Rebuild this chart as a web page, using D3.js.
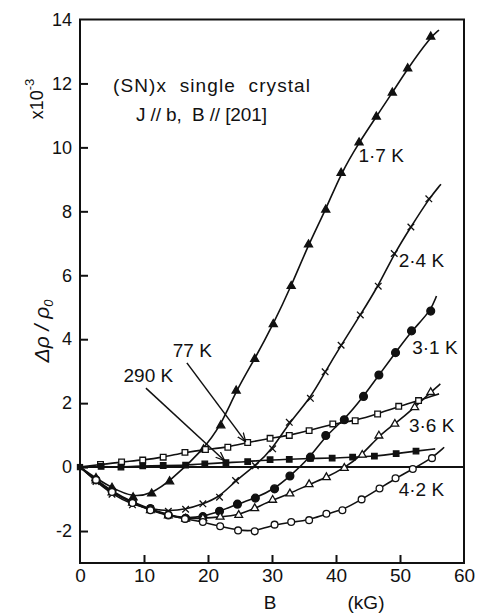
<!DOCTYPE html>
<html><head><meta charset="utf-8">
<script src="https://cdn.jsdelivr.net/npm/d3@7"></script>
<style>body{margin:0;background:#fff}svg{display:block}text{font-family:"Liberation Sans",Arial,sans-serif;fill:#111}</style>
</head><body><svg id="c" width="483" height="613"></svg>
<script>
// Field B (kG) and Δρ/ρ0 (x10^-3) per temperature
const T17 = [[0,0],[2.5,-0.35],[5,-0.65],[8.3,-0.95],[11.2,-0.83],[14,-0.45],[19.3,0.55],[22,1.3],[24.4,2.39],[27.3,3.38],[30.2,4.47],[33,5.66],[35.7,6.96],[38.4,8.05],[40.8,9.2],[43.6,10.15],[46.3,10.96],[48.8,11.71],[51.2,12.47],[54.8,13.46]];
const T24 = [[0,0],[2.5,-0.45],[5,-0.85],[8.2,-1.18],[11,-1.3],[13.8,-1.38],[16.5,-1.32],[19.2,-1.15],[21.8,-0.94],[24.3,-0.42],[27.4,0.04],[30.1,0.57],[32.7,1.4],[36,2.15],[38.3,2.98],[40.8,3.81],[43.8,4.76],[46.6,5.66],[49.1,6.68],[51.7,7.51],[54.5,8.39]];
const T31 = [[0,0],[2.5,-0.4],[5,-0.75],[8.2,-1.1],[11,-1.3],[13.8,-1.5],[16.5,-1.6],[19.2,-1.55],[21.8,-1.38],[24.6,-1.16],[27.4,-0.97],[30.4,-0.68],[32.8,-0.28],[36,0.31],[38.4,0.99],[41.3,1.48],[44.3,2.21],[46.7,2.88],[49.3,3.58],[51.8,4.26],[54.8,4.88]];
const T36 = [[0,0],[2.5,-0.42],[5,-0.8],[8.2,-1.12],[11,-1.35],[13.8,-1.52],[16.5,-1.62],[19.2,-1.6],[21.9,-1.56],[24.8,-1.5],[27.3,-1.29],[30.1,-1.03],[32.8,-0.83],[35.8,-0.54],[38.5,-0.32],[41.3,-0.03],[44.1,0.38],[46.7,0.98],[49.2,1.35],[52.3,1.87],[54.8,2.34]];
const T42 = [[0,0],[2.5,-0.4],[5,-0.78],[8.2,-1.12],[11,-1.35],[13.8,-1.5],[16.4,-1.62],[19.2,-1.72],[21.9,-1.85],[24.7,-1.98],[27.3,-2.01],[30.4,-1.8],[33,-1.72],[35.8,-1.66],[38.5,-1.46],[41,-1.35],[44,-1.01],[46.8,-0.67],[49.3,-0.35],[52,-0.06],[55,0.28]];
const T77 = [[0,0],[3.2,0.08],[6.5,0.16],[9.8,0.22],[13,0.31],[16.4,0.46],[19.6,0.55],[23.1,0.62],[26.2,0.77],[29.7,0.9],[32.7,0.99],[35.8,1.14],[39.5,1.35],[43,1.45],[46.5,1.66],[49.8,1.9],[52.9,2.08]];
const T290 = [[0,0],[3.3,0.02],[6.4,0.0],[9.8,0.04],[13,0.05],[16.5,0.06],[19.5,0.1],[22.8,0.14],[26.2,0.17],[29.7,0.23],[32.7,0.24],[36,0.27],[39.4,0.28],[42.6,0.31],[46,0.34],[49.4,0.42],[52.5,0.5]];
// fitted curve end points (beyond last data point)
const fitEnds = {T17:[56.1,13.67],T24:[56.4,8.85],T31:[55.7,5.35],T36:[56.3,2.6],T42:[56.9,0.62],T77:[56.1,2.29],T290:[55.5,0.57]};
const seriesNames = ["1·7 K","2·4 K","3·1 K","3·6 K","4·2 K","77 K","290 K"];
const xTicks = [0,10,20,30,40,50,60];
const yTicks = [-2,0,2,4,6,8,10,12,14];
const labelPos = {"1·7 K":[43.5,9.55],"2·4 K":[49.8,6.25],"3·1 K":[51.9,3.55],"3·6 K":[51.4,1.1],"4·2 K":[49.8,-0.9],"77 K":[14.5,3.45],"290 K":[6.8,2.65]};
const arrows = [{from:[16.7,3.26],to:[25.9,0.79]},{from:[10.3,2.47],to:[22.6,0.2]}];

const svg = d3.select("#c");
const x = d3.scaleLinear().domain([0,60]).range([80,464]);
const y = d3.scaleLinear().domain([-3,14]).range([563,19.5]);

// frame
svg.append("rect").attr("x",x(0)).attr("y",y(14)).attr("width",x(60)-x(0)).attr("height",y(-3)-y(14))
  .attr("fill","none").attr("stroke","#111").attr("stroke-width",2);
// zero line
svg.append("line").attr("x1",x(0)).attr("x2",x(60)).attr("y1",y(0)).attr("y2",y(0)).attr("stroke","#111").attr("stroke-width",2);

// axes (inward ticks)
const xa = svg.append("g").attr("transform",`translate(0,${y(-3)})`)
  .call(d3.axisBottom(x).tickValues(xTicks).tickSize(-8).tickPadding(6).tickFormat(d3.format("d")));
xa.select(".domain").remove();
xa.selectAll("line").attr("stroke","#111").attr("stroke-width",2).filter(d=>d===0||d===60).remove();
xa.selectAll("text").attr("font-size",19).attr("fill","#111").attr("font-family","Liberation Sans, Arial, sans-serif");
const ya = svg.append("g").attr("transform",`translate(${x(0)},0)`)
  .call(d3.axisLeft(y).tickValues(yTicks).tickSize(-8).tickPadding(8).tickFormat(d=>d<0?"-"+Math.abs(d):d));
ya.select(".domain").remove();
ya.selectAll("line").attr("stroke","#111").attr("stroke-width",2).filter(d=>d===14).remove();
ya.selectAll("text").attr("font-size",18).attr("fill","#111").attr("font-family","Liberation Sans, Arial, sans-serif");

// axis titles
svg.append("text").attr("x",270).attr("y",609).attr("text-anchor","middle").attr("font-size",19).text("B");
svg.append("text").attr("x",366).attr("y",609).attr("text-anchor","middle").attr("font-size",19).text("(kG)");
const yl = svg.append("text").attr("transform","translate(49,331) rotate(-90)").attr("text-anchor","middle").attr("font-size",21).attr("font-style","italic");
yl.append("tspan").text("Δρ / ρ");
yl.append("tspan").attr("font-size",13).attr("dy",4).text("0");
const ys = svg.append("text").attr("transform","translate(43,99) rotate(-90)").attr("text-anchor","middle").attr("font-size",18);
ys.append("tspan").text("x10");
ys.append("tspan").attr("font-size",13).attr("dy",-9).text("-3");

// annotation text
svg.append("text").attr("x",113).attr("y",92).attr("font-size",19).attr("textLength",197).attr("lengthAdjust","spacing").attr("xml:space","preserve").text("(SN)x  single  crystal");
svg.append("text").attr("x",136).attr("y",121).attr("font-size",19).attr("textLength",131).attr("lengthAdjust","spacing").attr("xml:space","preserve").text("J // b,  B // [201]");

// curves
const line = d3.line().x(d=>x(d[0])).y(d=>y(d[1])).curve(d3.curveBasis);
const data = {T17,T24,T31,T36,T42,T77,T290};
const keys = ["T17","T24","T31","T36","T42","T77","T290"];
keys.forEach(k=>{
  const pts = data[k].concat([fitEnds[k]]);
  svg.append("path").attr("d",line(pts)).attr("fill","none").attr("stroke","#111").attr("stroke-width",1.6);
});

// markers
const times = d3.symbolTimes || {draw(c,s){const r=Math.sqrt(s/7)*1.2;c.moveTo(-r,-r);c.lineTo(r,r);c.moveTo(r,-r);c.lineTo(-r,r);}};
const mk = {
  T17:{type:d3.symbolTriangle,size:28,fill:"#111",stroke:"#111"},
  T24:{type:times,size:30,fill:"none",stroke:"#111"},
  T31:{type:d3.symbolCircle,size:48,fill:"#111",stroke:"#111"},
  T36:{type:d3.symbolTriangle,size:26,fill:"#fff",stroke:"#111"},
  T42:{type:d3.symbolCircle,size:36,fill:"#fff",stroke:"#111"},
  T77:{type:d3.symbolSquare,size:32,fill:"#fff",stroke:"#111"},
  T290:{type:d3.symbolSquare,size:30,fill:"#111",stroke:"#111"}
};
keys.forEach(k=>{
  const m = mk[k];
  svg.append("g").selectAll("path").data(data[k].slice(1)).join("path")
    .attr("transform",d=>`translate(${x(d[0])},${y(d[1])})`)
    .attr("d",d3.symbol(m.type,m.size)).attr("fill",m.fill).attr("stroke",m.stroke).attr("stroke-width",1.3);
});
svg.append("path").attr("transform",`translate(${x(0)},${y(0)})`).attr("d",d3.symbol(d3.symbolSquare,40)).attr("fill","#111");

// series labels
seriesNames.forEach((n,i)=>{
  const p = labelPos[n];
  svg.append("text").attr("x",x(p[0])).attr("y",y(p[1])).attr("font-size",19).text(n);
});

// arrows
svg.append("defs").append("marker").attr("id","ah").attr("viewBox","0 0 10 10").attr("refX",10).attr("refY",5)
  .attr("markerWidth",9).attr("markerHeight",9).attr("orient","auto").attr("markerUnits","userSpaceOnUse")
  .append("path").attr("d","M0,1 L10,5 L0,9").attr("fill","none").attr("stroke","#111").attr("stroke-width",1.4);
arrows.forEach(a=>{
  svg.append("line").attr("x1",x(a.from[0])).attr("y1",y(a.from[1])).attr("x2",x(a.to[0])).attr("y2",y(a.to[1]))
    .attr("stroke","#111").attr("stroke-width",1.5).attr("marker-end","url(#ah)");
});
</script></body></html>
